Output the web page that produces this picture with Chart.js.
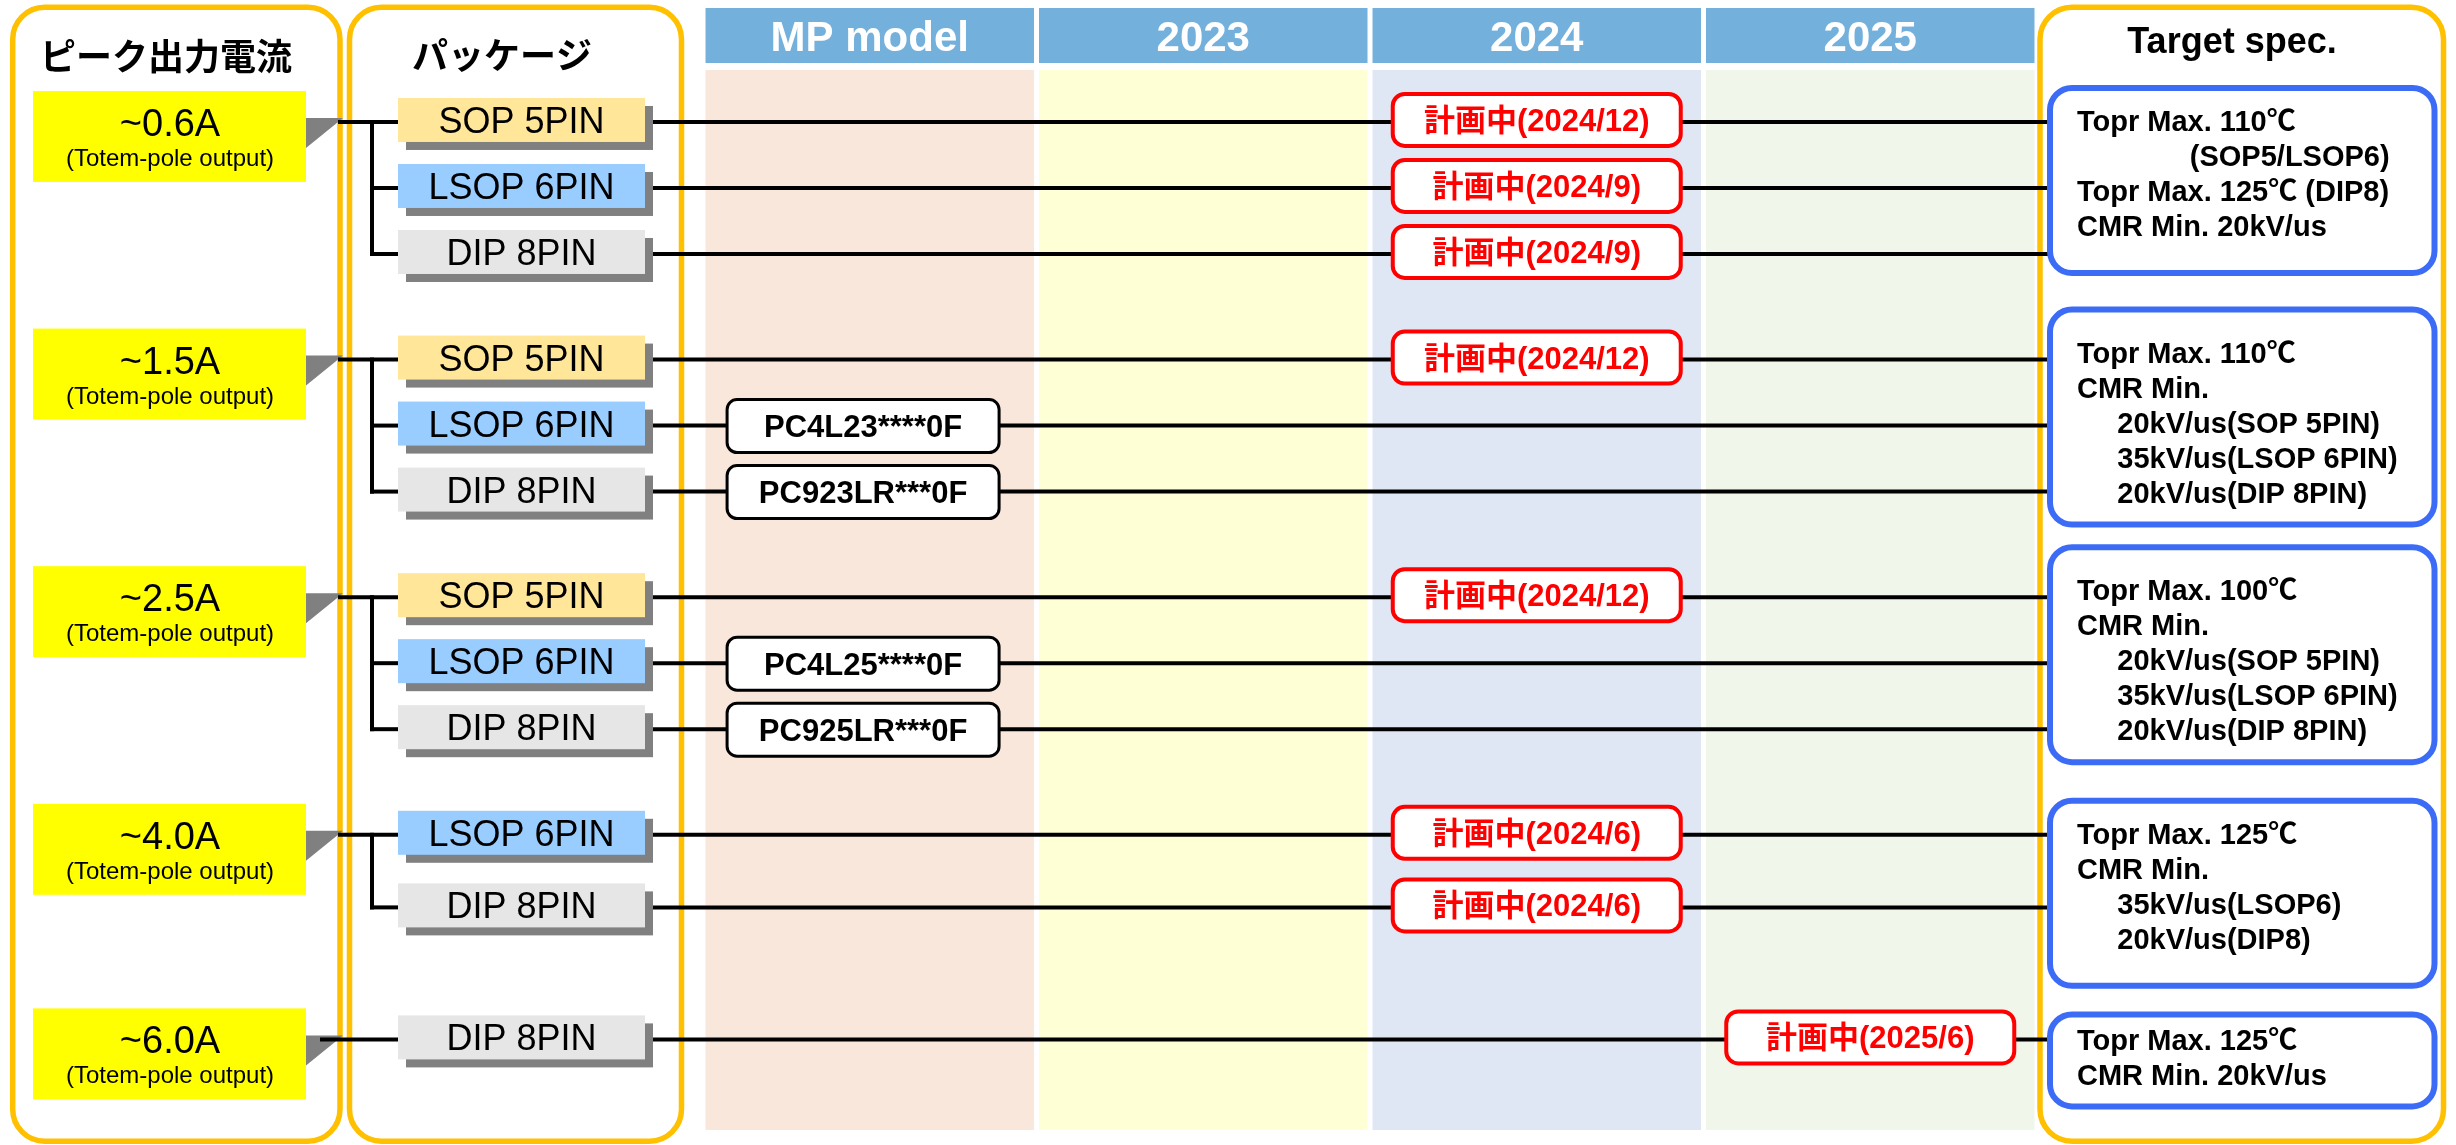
<!DOCTYPE html>
<html><head><meta charset="utf-8">
<script src="https://cdn.jsdelivr.net/npm/chart.js@4.4.1/dist/chart.umd.min.js"></script>
<style>html,body{margin:0;padding:0;background:#fff;overflow:hidden}#wrap{width:2456px;height:1145px}</style>
</head><body><div id="wrap"><canvas id="c" width="2456" height="1145"></canvas></div>
<script>
// ================= DATA =================
const panelTitles = ['ピーク出力電流', 'パッケージ', 'Target spec.'];
const timelineColumns = ['MP model', '2023', '2024', '2025'];
const peakCurrents = ['~0.6A', '~1.5A', '~2.5A', '~4.0A', '~6.0A'];
const outputType = '(Totem-pole output)';
const packagesByGroup = [
  ['SOP 5PIN', 'LSOP 6PIN', 'DIP 8PIN'],
  ['SOP 5PIN', 'LSOP 6PIN', 'DIP 8PIN'],
  ['SOP 5PIN', 'LSOP 6PIN', 'DIP 8PIN'],
  ['LSOP 6PIN', 'DIP 8PIN'],
  ['DIP 8PIN']
];
const mpModelsByGroup = [
  [null, null, null],
  [null, 'PC4L23****0F', 'PC923LR***0F'],
  [null, 'PC4L25****0F', 'PC925LR***0F'],
  [null, null],
  [null]
];
const planLabel = '計画中';
const planByGroup = [
  ['2024/12', '2024/9', '2024/9'],
  ['2024/12', null, null],
  ['2024/12', null, null],
  ['2024/6', '2024/6'],
  ['2025/6']
];
const specByGroup = [
  ['Topr Max. 110℃', '              (SOP5/LSOP6)', 'Topr Max. 125℃ (DIP8)', 'CMR Min. 20kV/us'],
  ['Topr Max. 110℃', 'CMR Min.', '     20kV/us(SOP 5PIN)', '     35kV/us(LSOP 6PIN)', '     20kV/us(DIP 8PIN)'],
  ['Topr Max. 100℃', 'CMR Min.', '     20kV/us(SOP 5PIN)', '     35kV/us(LSOP 6PIN)', '     20kV/us(DIP 8PIN)'],
  ['Topr Max. 125℃', 'CMR Min.', '     35kV/us(LSOP6)', '     20kV/us(DIP8)'],
  ['Topr Max. 125℃', 'CMR Min. 20kV/us']
];

// ================= LAYOUT / STYLE =================
const X_MIN = -2.108, X_MAX = 5.2564;   // x in timeline-column units: column i spans [i, i+1]
const Y_MIN = -1.848, Y_MAX = 15.5;     // y in row slots
const LINE_FROM = -0.5, LINE_TO = 4.04; // timeline line extent (package column -> spec column)
const MP_CENTER = 0.48;
const ORANGE = '#FFC000', HEADER = '#74B0DC', SPEC_BLUE = '#3C6CF6';
const COL_BG = ['#FAE7DB', '#FFFFD6', '#E0E7F4', '#F0F6EA'];
const PKG_COLOR = { SOP: '#FFE699', LSOP: '#99CCFF', DIP: '#E6E6E6' };
const LAT = '"Liberation Sans", Arial, "Noto Sans CJK JP", sans-serif';
const CJK = '"Noto Sans CJK JP", "Liberation Sans", sans-serif';

// row slots
const rows = [], groups = [];
let slot = 0;
packagesByGroup.forEach((pk, g) => {
  const first = slot, idx = [];
  pk.forEach((name, i) => {
    idx.push(rows.length);
    rows.push({ g, i, slot: first + i * (pk.length === 2 ? 1.1 : 1), pkg: name, mp: mpModelsByGroup[g][i], plan: planByGroup[g][i] });
  });
  groups.push({ first, last: rows[rows.length - 1].slot, rows: idx });
  slot = first + Math.max(pk.length, 2.5) + 0.6;
});

function rr(ctx, x, y, w, h, r) {
  ctx.beginPath();
  ctx.moveTo(x + r, y);
  ctx.lineTo(x + w - r, y); ctx.arcTo(x + w, y, x + w, y + r, r);
  ctx.lineTo(x + w, y + h - r); ctx.arcTo(x + w, y + h, x + w - r, y + h, r);
  ctx.lineTo(x + r, y + h); ctx.arcTo(x, y + h, x, y + h - r, r);
  ctx.lineTo(x, y + r); ctx.arcTo(x, y, x + r, y, r);
  ctx.closePath();
}
function line(ctx, x0, y0, x1, y1, w) {
  ctx.beginPath(); ctx.moveTo(x0, y0); ctx.lineTo(x1, y1);
  ctx.lineWidth = w; ctx.strokeStyle = '#000'; ctx.stroke();
}
function pkgKey(name) { return name.split(' ')[0]; }

const roadmap = {
  id: 'roadmap',
  beforeDatasetsDraw(chart) {
    const ctx = chart.ctx, xs = chart.scales.x, ys = chart.scales.y;
    const X = v => xs.getPixelForValue(v), Y = v => ys.getPixelForValue(v);
    ctx.save();
    // column backgrounds and headers
    timelineColumns.forEach((name, i) => {
      const x0 = X(i) + 2.5, x1 = X(i + 1) - 2.5;
      ctx.fillStyle = COL_BG[i];
      ctx.fillRect(x0, 70, x1 - x0, 1060);
      ctx.fillStyle = HEADER;
      ctx.fillRect(x0, 8, x1 - x0, 55);
      ctx.fillStyle = '#fff';
      ctx.font = 'bold 42px ' + LAT;
      ctx.textAlign = 'center'; ctx.textBaseline = 'alphabetic';
      ctx.fillText(name, (x0 + x1) / 2, 51);
    });
    // orange panels
    const panels = [[12.7, 340], [349.5, 681.5], [2040, 2443.5]];
    ctx.strokeStyle = ORANGE; ctx.lineWidth = 5.5;
    panels.forEach(p => { rr(ctx, p[0], 7.3, p[1] - p[0], 1134, 32); ctx.fillStyle = '#fff'; ctx.fill(); ctx.stroke(); });
    // titles
    ctx.fillStyle = '#000';
    ctx.font = 'bold 36px ' + CJK; ctx.textAlign = 'center'; ctx.textBaseline = 'middle';
    ctx.fillText(panelTitles[0], 166, 56);
    ctx.fillText(panelTitles[1], 502, 55);
    ctx.font = 'bold 36px ' + LAT; ctx.textBaseline = 'alphabetic';
    ctx.fillText(panelTitles[2], 2232, 53);
    // current boxes, pointers, connectors
    groups.forEach((gr, g) => {
      const y0 = Y(gr.first), y1 = Y(gr.last);
      ctx.fillStyle = '#FFFF00';
      ctx.fillRect(33, y0 - 31, 273, 91);
      ctx.fillStyle = '#000'; ctx.textAlign = 'center'; ctx.textBaseline = 'alphabetic';
      ctx.font = '38px ' + LAT;
      ctx.fillText(peakCurrents[g], 170, y0 + 14);
      ctx.font = '24px ' + LAT;
      ctx.fillText(outputType, 170, y0 + 44);
      ctx.fillStyle = '#808080';
      ctx.beginPath(); ctx.moveTo(306, y0 - 4); ctx.lineTo(343, y0 - 4); ctx.lineTo(306, y0 + 26); ctx.closePath(); ctx.fill();
      const single = gr.rows.length === 1;
      line(ctx, single ? 320 : 338, y0, 400, y0, 4);
      if (!single) {
        line(ctx, 372, y0 - 2, 372, y1 + 2, 4);
        gr.rows.slice(1).forEach(ri => { const y = Y(rows[ri].slot); line(ctx, 370, y, 400, y, 4); });
      }
    });
    ctx.restore();
  },
  afterDatasetsDraw(chart) {
    const ctx = chart.ctx, xs = chart.scales.x, ys = chart.scales.y;
    const X = v => xs.getPixelForValue(v), Y = v => ys.getPixelForValue(v);
    ctx.save();
    rows.forEach(r => {
      const y = Y(r.slot);
      // package box with shadow
      const bx = 398, bw = 247, bh = 44, by = y - 24;
      ctx.fillStyle = '#808080'; ctx.fillRect(bx + 8, by + 8, bw, bh);
      ctx.fillStyle = PKG_COLOR[pkgKey(r.pkg)]; ctx.fillRect(bx, by, bw, bh);
      ctx.fillStyle = '#000'; ctx.font = '36px ' + LAT; ctx.textAlign = 'center'; ctx.textBaseline = 'alphabetic';
      ctx.fillText(r.pkg, bx + bw / 2, by + bh / 2 + 13);
      // MP model box
      if (r.mp) {
        const cx = X(MP_CENTER), w = 272, h = 53;
        rr(ctx, cx - w / 2, y - 26, w, h, 10);
        ctx.fillStyle = '#fff'; ctx.fill(); ctx.lineWidth = 3; ctx.strokeStyle = '#000'; ctx.stroke();
        ctx.fillStyle = '#000'; ctx.font = 'bold 31px ' + LAT;
        ctx.fillText(r.mp, cx, y + 11.5);
      }
      // plan box
      if (r.plan) {
        const col = timelineColumns.indexOf(r.plan.split('/')[0]);
        const cx = X(col + 0.5), w = 288, h = 52, cy = y - 2;
        rr(ctx, cx - w / 2, cy - h / 2, w, h, 12);
        ctx.fillStyle = '#fff'; ctx.fill(); ctx.lineWidth = 4; ctx.strokeStyle = '#FF0000'; ctx.stroke();
        ctx.fillStyle = '#FF0000'; ctx.font = 'bold 31px ' + LAT;
        ctx.fillText(planLabel + '(' + r.plan + ')', cx, cy + 11);
      }
    });
    // spec boxes
    groups.forEach((gr, g) => {
      const lines = specByGroup[g], n = lines.length;
      const yFirst = Y(gr.first) + (n >= 5 ? 3 : (n >= 4 ? 9 : 11));
      const yLast = yFirst + 35 * (n - 1);
      const top = yFirst - (n >= 5 ? 53 : (n >= 4 ? 43 : 36));
      const bot = yLast + (n >= 5 ? 22 : (n >= 4 ? 37 : 21));
      rr(ctx, 2050, top, 384.5, bot - top, 22);
      ctx.fillStyle = '#fff'; ctx.fill(); ctx.lineWidth = 6; ctx.strokeStyle = SPEC_BLUE; ctx.stroke();
      ctx.fillStyle = '#000'; ctx.font = 'bold 29px ' + LAT; ctx.textAlign = 'left'; ctx.textBaseline = 'alphabetic';
      lines.forEach((t, k) => ctx.fillText(t, 2077, yFirst + 35 * k));
    });
    ctx.restore();
  }
};

new Chart(document.getElementById('c'), {
  type: 'scatter',
  data: {
    datasets: rows.map(r => ({
      label: r.pkg,
      data: [{ x: LINE_FROM, y: r.slot }, { x: LINE_TO, y: r.slot }],
      showLine: true, borderColor: '#000', borderWidth: 4, pointRadius: 0, fill: false
    }))
  },
  options: {
    responsive: false, animation: false, devicePixelRatio: 1, events: [],
    layout: { padding: 0 },
    scales: {
      x: { type: 'linear', min: X_MIN, max: X_MAX, display: false },
      y: { type: 'linear', min: Y_MIN, max: Y_MAX, reverse: true, display: false }
    },
    plugins: { legend: { display: false }, tooltip: { enabled: false }, title: { display: false } }
  },
  plugins: [roadmap]
});
</script>
</body></html>
